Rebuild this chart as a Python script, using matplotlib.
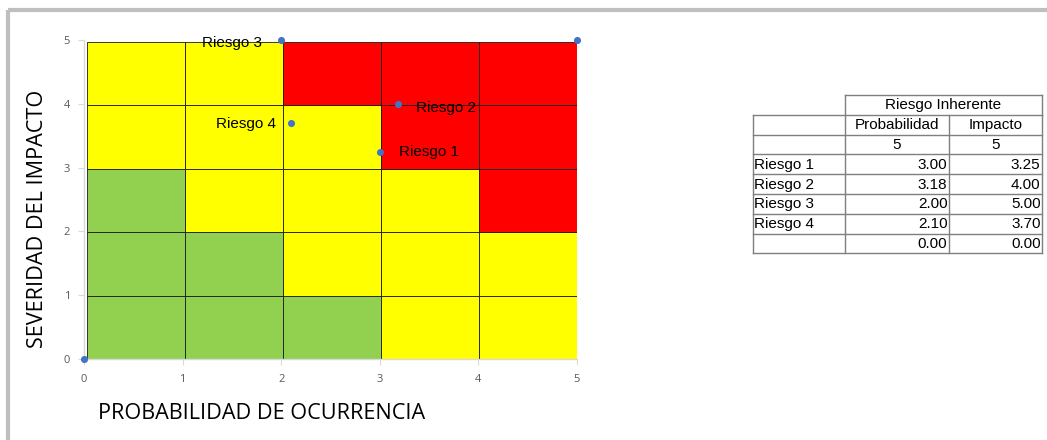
import matplotlib
matplotlib.use("Agg")
import matplotlib.pyplot as plt
import numpy as np
from matplotlib.colors import ListedColormap
from matplotlib.patches import Rectangle

# ---------------- data ----------------
risk_names = ["Riesgo 1", "Riesgo 2", "Riesgo 3", "Riesgo 4"]
prob = [3.00, 3.18, 2.00, 2.10]
impact = [3.25, 4.00, 5.00, 3.70]
max_prob, max_imp = 5, 5
extra_prob, extra_imp = 0.00, 0.00
# risk zones: rows from impact 0-1 (bottom) to 4-5 (top); 0=green, 1=yellow, 2=red
zones = [[0, 0, 0, 1, 1],
         [0, 0, 1, 1, 1],
         [0, 1, 1, 1, 2],
         [1, 1, 1, 2, 2],
         [1, 1, 2, 2, 2]]
zone_colors = ["#92d050", "#ffff00", "#ff0000"]
ticks = [0, 1, 2, 3, 4, 5]
table_title = "Riesgo Inherente"
col_heads = ["Probabilidad", "Impacto"]

# ---------------- figure ----------------
W, H = 1047, 440
fig = plt.figure(figsize=(W / 100, H / 100), dpi=100)
fig.patch.set_facecolor("white")

def px(x0, y0, x1, y1):
    return [x0 / W, 1 - y1 / H, (x1 - x0) / W, (y1 - y0) / H]

ax = fig.add_axes(px(84, 40, 577, 359))
ax.set_xlim(0, 5)
ax.set_ylim(0, 5)

xe = np.linspace(0.03, 5.0, 6)
ye = np.linspace(0.0, 4.97, 6)
ax.pcolormesh(xe, ye, np.array(zones), cmap=ListedColormap(zone_colors),
              vmin=-0.5, vmax=2.5, edgecolors="#1a1a1a", linewidth=0.6,
              antialiased=True, zorder=1)

for s in ["top", "right"]:
    ax.spines[s].set_visible(False)
for s in ["left", "bottom"]:
    ax.spines[s].set_color("#d9d9d9")
    ax.spines[s].set_linewidth(1.0)
ax.set_xticks(ticks)
ax.set_yticks(ticks)
ax.tick_params(direction="out", length=4, color="#d9d9d9", labelcolor="#595959",
               labelsize=8)
ax.tick_params(axis="x", pad=7)
ax.tick_params(axis="y", pad=6)
for lab in ax.get_xticklabels() + ax.get_yticklabels():
    lab.set_fontfamily("Open Sans")

all_x = prob + [max_prob, extra_prob]
all_y = impact + [max_imp, extra_imp]
ax.scatter(all_x, all_y, s=26, color="#4472c4", zorder=5, clip_on=False,
           linewidths=0)

label_style = {
    "Riesgo 1": dict(off=(13.7, -0.3), ha="left"),
    "Riesgo 2": dict(off=(13.0, -2.9), ha="left"),
    "Riesgo 3": dict(off=(-13.7, -2.2), ha="right"),
    "Riesgo 4": dict(off=(-10.8, -0.7), ha="right"),
}
for n, x, y in zip(risk_names, prob, impact):
    st = label_style[n]
    ax.annotate(n, (x, y), xytext=st["off"], textcoords="offset points",
                ha=st["ha"], va="center", fontsize=11, family="Liberation Sans",
                color="black", zorder=6, annotation_clip=False)

fig.text(38 / W, 1 - 219 / H, "SEVERIDAD DEL IMPACTO", rotation=90,
         ha="center", va="center", fontsize=15.6, family="Open Sans", color="black")
fig.text(262 / W, 1 - 413 / H, "PROBABILIDAD DE OCURRENCIA",
         ha="center", va="center", fontsize=15.6, family="Open Sans", color="black")

# ---------------- overlay (frame + table) ----------------
ov = fig.add_axes([0, 0, 1, 1], zorder=-1)
ov.set_xlim(0, W)
ov.set_ylim(H, 0)
ov.axis("off")
ov.add_patch(Rectangle((8, 10), W + 20, H + 20, fill=False, edgecolor="#bfbfbf",
                       linewidth=3.0, joinstyle="round"))

cx = [753, 845, 949, 1042]
ry = [95 + 19.8 * i for i in range(9)]
lc = "#7f7f7f"
lw = 1.0
# header row (spans the two value columns)
ov.plot([cx[1], cx[3]], [ry[0], ry[0]], color=lc, lw=lw)
ov.plot([cx[1], cx[1]], [ry[0], ry[1]], color=lc, lw=lw)
ov.plot([cx[3], cx[3]], [ry[0], ry[1]], color=lc, lw=lw)
for y in ry[1:]:
    ov.plot([cx[0], cx[3]], [y, y], color=lc, lw=lw)
for x in cx:
    ov.plot([x, x], [ry[1], ry[-1]], color=lc, lw=lw)

tf = dict(fontsize=11, family="Liberation Sans", color="black", va="center")
def rowc(i):
    return (ry[i] + ry[i + 1]) / 2 + 0.5

ov.text((cx[1] + cx[3]) / 2, rowc(0), table_title, ha="center", **tf)
ov.text((cx[1] + cx[2]) / 2, rowc(1), col_heads[0], ha="center", **tf)
ov.text((cx[2] + cx[3]) / 2, rowc(1), col_heads[1], ha="center", **tf)
ov.text((cx[1] + cx[2]) / 2, rowc(2), str(max_prob), ha="center", **tf)
ov.text((cx[2] + cx[3]) / 2, rowc(2), str(max_imp), ha="center", **tf)
names_rows = risk_names + [""]
p_rows = prob + [extra_prob]
i_rows = impact + [extra_imp]
for k, (n, p, im) in enumerate(zip(names_rows, p_rows, i_rows)):
    r = 3 + k
    ov.text(cx[0] + 1.5, rowc(r), n, ha="left", **tf)
    ov.text(cx[2] - 1.5, rowc(r), f"{p:.2f}", ha="right", **tf)
    ov.text(cx[3] - 1.5, rowc(r), f"{im:.2f}", ha="right", **tf)

fig.savefig("out.png", dpi=100)
